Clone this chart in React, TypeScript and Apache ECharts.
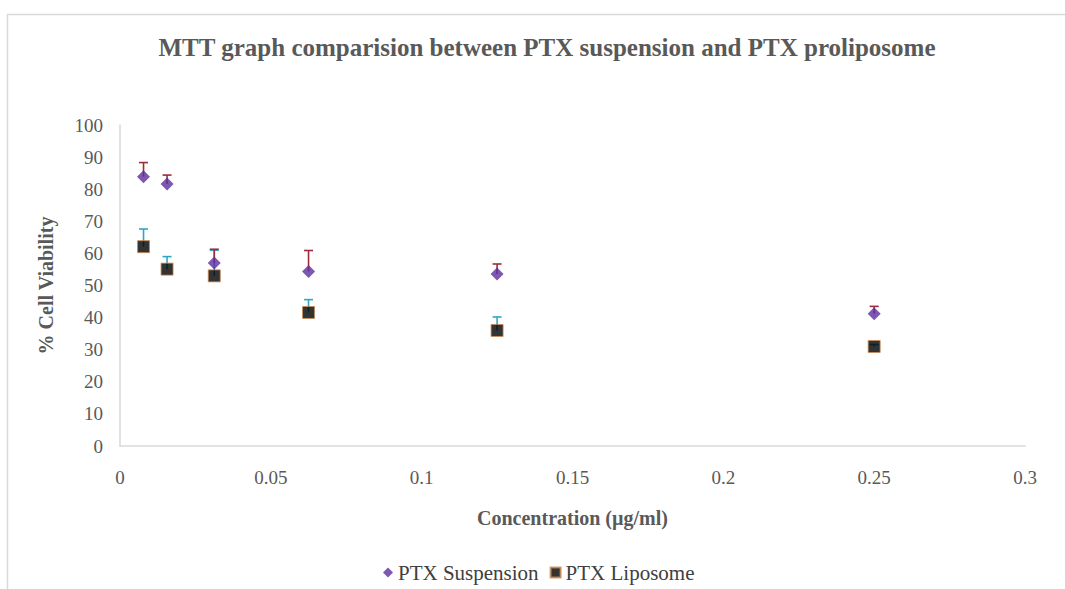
import React, { useEffect, useRef } from "react";
import * as echarts from "echarts";

// Drug concentrations (µg/ml)
const concentrations = [0.0078, 0.0156, 0.03125, 0.0625, 0.125, 0.25];

// Mean % cell viability and standard deviation for each formulation
const suspensionMean = [83.9, 81.6, 57.0, 54.4, 53.6, 41.2];
const suspensionSD = [4.4, 2.8, 4.3, 6.5, 3.1, 2.3];
const liposomeMean = [62.1, 55.1, 53.0, 41.6, 36.0, 31.0];
const liposomeSD = [5.5, 3.9, 8.0, 4.0, 4.2, 0.6];

const seriesNames = ["PTX Suspension", "PTX Liposome"];
const yTicks = { min: 0, max: 100, interval: 10 };
const xTicks = { min: 0, max: 0.3, interval: 0.05 };

const FONT = "Liberation Serif";
const TEXT_COLOR = "#595959";
const AXIS_COLOR = "#d9d9d9";

const SUSP_COLOR = "#5c2e9e";
const SUSP_ERR = "#9e2c3c";
const LIPO_COLOR = "#000000";
const LIPO_BORDER = "#c98a55";
const LIPO_ERR = "#2fa6c6";

const legendFont = { fontFamily: FONT, fontSize: 21, color: "#404040" };

function errorBarSeries(mean: number[], sd: number[], color: string) {
  return {
    type: "custom",
    silent: true,
    z: 1,
    data: concentrations.map((c, i) => [c, mean[i], sd[i]]),
    encode: { x: 0, y: 1 },
    renderItem: (_params: any, api: any) => {
      const x = api.value(0);
      const y = api.value(1);
      const e = api.value(2);
      const p0 = api.coord([x, y]);
      const p1 = api.coord([x, y + e]);
      const hw = 4.5;
      const style = { stroke: color, lineWidth: 1.6 };
      return {
        type: "group",
        children: [
          { type: "line", shape: { x1: p0[0], y1: p0[1], x2: p1[0], y2: p1[1] }, style },
          { type: "line", shape: { x1: p1[0] - hw, y1: p1[1], x2: p1[0] + hw, y2: p1[1] }, style },
        ],
      };
    },
  };
}

export default function App() {
  const ref = useRef<HTMLDivElement>(null);

  useEffect(() => {
    if (!ref.current) return;
    const chart = echarts.init(ref.current, undefined, { renderer: "svg" });
    chart.setOption({
      animation: false,
      backgroundColor: "#ffffff",
      textStyle: { fontFamily: FONT },
      title: {
        text: "MTT graph comparision between PTX suspension and PTX proliposome",
        left: 542,
        top: 30,
        textAlign: "center",
        textStyle: {
          fontFamily: FONT,
          fontWeight: "bold",
          fontSize: 25,
          color: TEXT_COLOR,
        },
      },
      graphic: [
        {
          type: "rect",
          shape: { x: 7.5, y: 14.5, width: 1200, height: 700 },
          style: { fill: "none", stroke: AXIS_COLOR, lineWidth: 1.5 },
          silent: true,
          z: -10,
        },
      ],
      legend: {
        data: [
          { name: seriesNames[0], icon: "diamond" },
          { name: seriesNames[1], icon: "rect" },
        ],
        left: 378,
        top: 557,
        itemWidth: 10,
        itemHeight: 10,
        itemGap: 11,
        formatter: "{t|{name}}",
        textStyle: { ...legendFont, rich: { t: legendFont } },
      },
      grid: { left: 120, right: 40, top: 125, bottom: 143, containLabel: false },
      xAxis: {
        type: "value",
        ...xTicks,
        name: "Concentration (µg/ml)",
        nameLocation: "middle",
        nameGap: 62,
        nameTextStyle: { fontFamily: FONT, fontWeight: "bold", fontSize: 20, color: TEXT_COLOR },
        axisLine: { show: true, lineStyle: { color: AXIS_COLOR, width: 1.5 } },
        axisTick: { show: false },
        splitLine: { show: false },
        axisLabel: { fontFamily: FONT, fontSize: 19, color: TEXT_COLOR, margin: 22 },
      },
      yAxis: {
        type: "value",
        ...yTicks,
        name: "% Cell Viability",
        nameLocation: "middle",
        nameGap: 64,
        nameTextStyle: { fontFamily: FONT, fontWeight: "bold", fontSize: 20, color: TEXT_COLOR },
        axisLine: { show: true, lineStyle: { color: AXIS_COLOR, width: 1.5 } },
        axisTick: { show: false },
        splitLine: { show: false },
        axisLabel: { fontFamily: FONT, fontSize: 19, color: TEXT_COLOR, margin: 17 },
      },
      series: [
        errorBarSeries(liposomeMean, liposomeSD, LIPO_ERR),
        errorBarSeries(suspensionMean, suspensionSD, SUSP_ERR),
        {
          name: seriesNames[1],
          type: "scatter",
          symbol: "rect",
          symbolSize: 12,
          z: 3,
          itemStyle: { color: LIPO_COLOR, borderColor: LIPO_BORDER, borderWidth: 1 },
          data: concentrations.map((c, i) => [c, liposomeMean[i]]),
        },
        {
          name: seriesNames[0],
          type: "scatter",
          symbol: "diamond",
          symbolSize: 13,
          z: 4,
          itemStyle: { color: SUSP_COLOR },
          data: concentrations.map((c, i) => [c, suspensionMean[i]]),
        },
      ],
    });
    return () => chart.dispose();
  }, []);

  return (
    <div
      ref={ref}
      style={{ position: "fixed", left: 0, top: 0, width: 1065, height: 589 }}
    />
  );
}
